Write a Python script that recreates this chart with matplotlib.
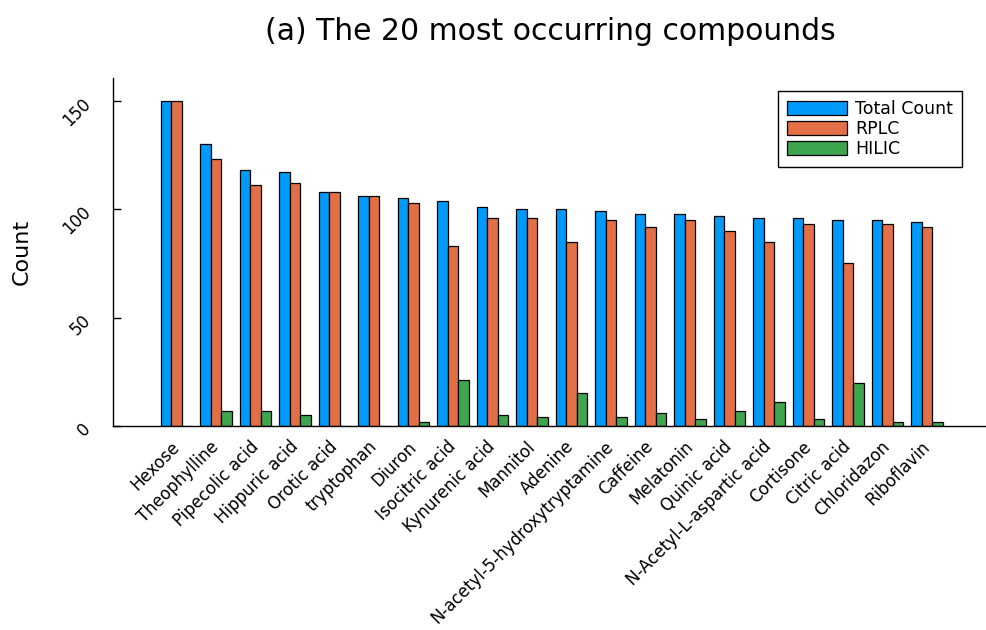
import numpy as np
import matplotlib
matplotlib.use("Agg")
import matplotlib.pyplot as plt

# data
compounds = ["Hexose", "Theophylline", "Pipecolic acid", "Hippuric acid", "Orotic acid",
             "tryptophan", "Diuron", "Isocitric acid", "Kynurenic acid", "Mannitol",
             "Adenine", "N-acetyl-5-hydroxytryptamine", "Caffeine", "Melatonin",
             "Quinic acid", "N-Acetyl-L-aspartic acid", "Cortisone", "Citric acid",
             "Chloridazon", "Riboflavin"]
total_count = [150, 130, 118, 117, 108, 106, 105, 104, 101, 100,
               100, 99, 98, 98, 97, 96, 96, 95, 95, 94]
rplc = [150, 123, 111, 112, 108, 106, 103, 83, 96, 96,
        85, 95, 92, 95, 90, 85, 93, 75, 93, 92]
hilic = [0, 7, 7, 5, 0, 0, 2, 21, 5, 4,
         15, 4, 6, 3, 7, 11, 3, 20, 2, 2]

series = [("Total Count", total_count, "#009AFA"),
          ("RPLC", rplc, "#E36F47"),
          ("HILIC", hilic, "#3EA44E")]

fig = plt.figure(figsize=(9.87, 6.3), dpi=100)
ax = fig.add_axes([113 / 987, 204 / 630, 874 / 987, 348 / 630])

x = np.arange(len(compounds))
w = 0.8 / 3
for i, (name, vals, col) in enumerate(series):
    ax.bar(x + (i - 1) * w, vals, width=w, color=col, edgecolor="black",
           linewidth=0.9, label=name)

ax.set_xlim(-1.613, 20.519)
ax.set_ylim(0, 160.6)
ax.set_xticks(x)
ax.set_xticklabels(compounds, rotation=45, ha="right", va="center",
                   rotation_mode="anchor", fontsize=12)
ax.set_yticks([0, 50, 100, 150])
ax.set_yticklabels(["0", "50", "100", "150"], rotation=45, ha="right", va="center",
                   rotation_mode="anchor", fontsize=12)
ax.tick_params(axis="x", length=0, pad=13)
ax.tick_params(axis="y", direction="in", length=6, width=1, pad=18)

for s in ["top", "right"]:
    ax.spines[s].set_visible(False)
for s in ["left", "bottom"]:
    ax.spines[s].set_linewidth(1.0)

ax.set_ylabel("Count", fontsize=16, va="center")
ax.yaxis.set_label_coords(-0.104, 0.5)
ax.set_title("(a) The 20 most occurring compounds", fontsize=21.5, pad=27)

leg = ax.legend(loc="upper right", bbox_to_anchor=(0.9714, 0.9626), borderaxespad=0,
                fontsize=12.5, fancybox=False, edgecolor="black", framealpha=1,
                handlelength=3.45, handleheight=0.85, labelspacing=0.12,
                handletextpad=0.5, borderpad=0.5)
leg.get_frame().set_linewidth(1.0)

fig.savefig("out.png", dpi=100)
